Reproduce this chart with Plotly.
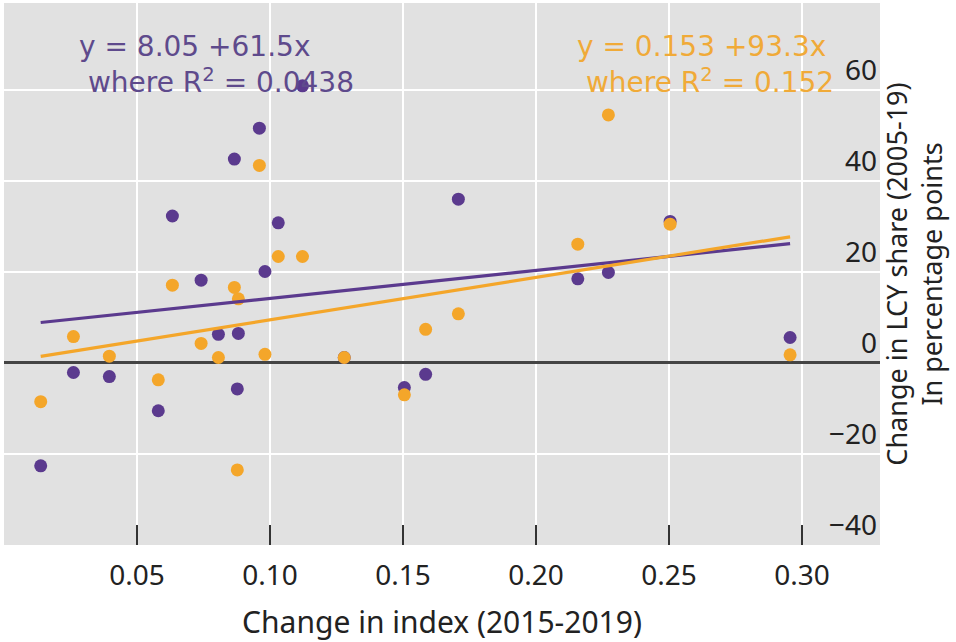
import plotly.graph_objects as go

# ---- data ----
index_change = [0.0138, 0.0261, 0.0396, 0.0580, 0.0633, 0.0741, 0.0806, 0.0866,
                0.0877, 0.0881, 0.0960, 0.0981, 0.1031, 0.1122, 0.1279, 0.1505,
                0.1585, 0.1708, 0.2157, 0.2272, 0.2504, 0.2955]
lcy_purple = [-22.6, -2.1, -3.0, -10.5, 32.3, 18.2, 6.3, 44.8,
              -5.7, 6.5, 51.6, 20.1, 30.8, 60.9, 1.2, -5.4,
              -2.5, 36.0, 18.5, 19.9, 31.1, 5.6]
lcy_orange = [-8.5, 5.8, 1.5, -3.7, 17.1, 4.3, 1.2, 16.6,
              -23.5, 14.1, 43.4, 1.9, 23.4, 23.4, 1.2, -7.0,
              7.4, 10.8, 26.1, 54.5, 30.5, 1.8]

fit_intercepts = [8.05, 0.153]
fit_slopes = [61.5, 93.3]
fit_labels = ["y = 8.05 +61.5x<br>\u00a0where R<sup>2</sup> = 0.0438",
              "y = 0.153 +93.3x<br>\u00a0where R<sup>2</sup> = 0.152"]

x_ticks = [0.05, 0.10, 0.15, 0.20, 0.25, 0.30]
x_ticktext = ["0.05", "0.10", "0.15", "0.20", "0.25", "0.30"]
y_ticks = [-40, -20, 0, 20, 40, 60]

PURPLE = "#5b3a8e"
ORANGE = "#f4a62a"
FONT = "Noto Sans"
ANN_FONT = "DejaVu Sans"

fig = go.Figure()
fig.add_trace(go.Scatter(x=index_change, y=lcy_purple, mode="markers",
                         marker=dict(color=PURPLE, size=13), showlegend=False))
fig.add_trace(go.Scatter(x=index_change, y=lcy_orange, mode="markers",
                         marker=dict(color=ORANGE, size=13), showlegend=False))

xmin, xmax = min(index_change), max(index_change)
for b0, b1, col in zip(fit_intercepts, fit_slopes, [PURPLE, ORANGE]):
    fig.add_trace(go.Scatter(x=[xmin, xmax], y=[b0 + b1 * xmin, b0 + b1 * xmax],
                             mode="lines", line=dict(color=col, width=3.2),
                             showlegend=False))

fig.add_annotation(xref="paper", yref="paper", x=0.0835, y=0.887,
                   xanchor="left", yanchor="middle", align="left",
                   text=fit_labels[0], showarrow=False,
                   font=dict(family=ANN_FONT, size=28, color="#5e4a8c"))
fig.add_annotation(xref="paper", yref="paper", x=0.652, y=0.887,
                   xanchor="left", yanchor="middle", align="left",
                   text=fit_labels[1], showarrow=False,
                   font=dict(family=ANN_FONT, size=28, color="#f0aa38"))

fig.update_layout(
    width=956, height=642,
    margin=dict(l=4, r=76, t=3, b=97),
    paper_bgcolor="white", plot_bgcolor="#e1e1e1",
    font=dict(family=FONT, size=28, color="#222222"),
    xaxis=dict(range=[0, 0.3293], tickvals=x_ticks, ticktext=x_ticktext,
               ticks="inside", ticklen=20, tickwidth=2, tickcolor="#333333",
               minor=dict(tick0=0, dtick=0.05, ticks="inside", ticklen=20,
                          tickwidth=1.5, tickcolor="#333333", showgrid=True,
                          gridcolor="white", gridwidth=2),
               ticklabelstandoff=11,
               showgrid=True, gridcolor="white", gridwidth=2,
               zeroline=False, showline=False,
               tickfont=dict(size=28, color="#222222"),
               title=dict(text="Change in index (2015-2019)",
                          font=dict(size=30, color="#222222"), standoff=22),
               automargin=False),
    yaxis=dict(side="right", range=[-40, 79.1], tickvals=y_ticks,
               ticks="", ticklabelposition="inside top", ticklabelshift=0,
               showgrid=True, gridcolor="white", gridwidth=2,
               zeroline=True, zerolinecolor="#444444", zerolinewidth=2.5,
               showline=False,
               tickfont=dict(size=28, color="#222222"),
               title=dict(text="Change in LCY share (2005-19)<br>In percentage points",
                          font=dict(size=27, color="#222222"), standoff=12),
               automargin=False),
)

fig.write_html("out.html", config={"displayModeBar": False},
               post_script="document.body.style.margin='0px';")
